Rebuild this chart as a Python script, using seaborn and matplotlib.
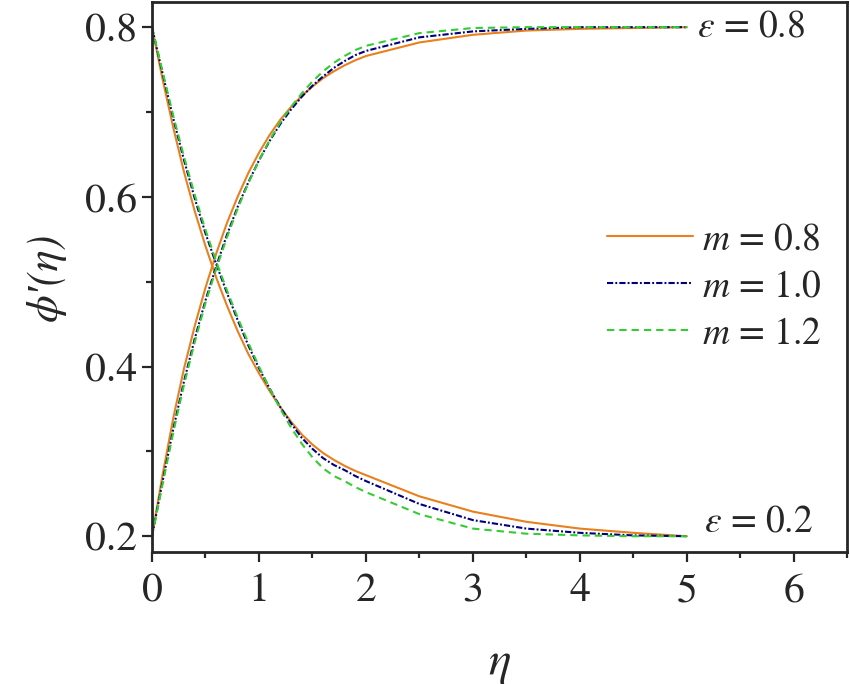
import numpy as np
import pandas as pd
import matplotlib
matplotlib.use('Agg')
import matplotlib.pyplot as plt
from matplotlib.lines import Line2D
from matplotlib.ticker import MultipleLocator
import seaborn as sns

# ---- data ----
eta = [0.0, 0.1, 0.2, 0.3, 0.4, 0.5, 0.6, 0.7, 0.8, 0.9, 1.0, 1.1, 1.2, 1.3, 1.4,
       1.5, 1.6, 1.7, 1.8, 1.9, 2.0, 2.5, 3.0, 3.5, 4.0, 4.5, 5.0]

# epsilon = 0.8 (rising curves)
rise_m08 = [0.200, 0.273, 0.340, 0.398, 0.448, 0.493, 0.533, 0.569, 0.600, 0.628, 0.652, 0.673, 0.691, 0.706, 0.719,
            0.730, 0.740, 0.748, 0.755, 0.761, 0.766, 0.782, 0.791, 0.796, 0.798, 0.799, 0.800]
rise_m10 = [0.200, 0.265, 0.327, 0.383, 0.433, 0.478, 0.518, 0.555, 0.588, 0.617, 0.643, 0.666, 0.686, 0.703, 0.718,
            0.731, 0.742, 0.752, 0.760, 0.767, 0.772, 0.788, 0.795, 0.798, 0.800, 0.800, 0.800]
rise_m12 = [0.200, 0.262, 0.323, 0.379, 0.429, 0.475, 0.515, 0.552, 0.586, 0.616, 0.643, 0.667, 0.688, 0.706, 0.722,
            0.736, 0.748, 0.758, 0.766, 0.773, 0.778, 0.793, 0.799, 0.800, 0.800, 0.800, 0.800]

# epsilon = 0.2 (falling curves)
fall_m08 = [0.800, 0.738, 0.681, 0.629, 0.583, 0.542, 0.505, 0.472, 0.442, 0.415, 0.392, 0.371, 0.352, 0.335, 0.320,
            0.308, 0.298, 0.290, 0.283, 0.277, 0.272, 0.247, 0.229, 0.217, 0.209, 0.204, 0.200]
fall_m10 = [0.800, 0.745, 0.692, 0.643, 0.598, 0.557, 0.521, 0.487, 0.455, 0.425, 0.398, 0.374, 0.352, 0.333, 0.316,
            0.303, 0.292, 0.284, 0.278, 0.271, 0.265, 0.238, 0.219, 0.209, 0.204, 0.201, 0.200]
fall_m12 = [0.800, 0.747, 0.695, 0.647, 0.602, 0.561, 0.524, 0.490, 0.458, 0.428, 0.400, 0.374, 0.350, 0.328, 0.309,
            0.293, 0.280, 0.271, 0.265, 0.258, 0.252, 0.226, 0.209, 0.203, 0.201, 0.200, 0.200]

m_labels = ['0.8', '1.0', '1.2']
colors = {'0.8': '#E8801E', '1.0': '#00007F', '1.2': '#33CC33'}
dash_styles = {'0.8': '', '1.0': (3, 1, 0.9, 1), '1.2': (3.5, 2.4)}

rows = []
for m, r, f in zip(m_labels, [rise_m08, rise_m10, rise_m12], [fall_m08, fall_m10, fall_m12]):
    for x, y in zip(eta, r):
        rows.append((m, 'eps08', x, y))
    for x, y in zip(eta, f):
        rows.append((m, 'eps02', x, y))
df = pd.DataFrame(rows, columns=['m', 'eps', 'eta', 'phi'])

# ---- style ----
sns.set_style('ticks')
plt.rcParams['font.family'] = ['STIXGeneral', 'Liberation Serif', 'DejaVu Serif']
plt.rcParams['mathtext.fontset'] = 'stix'

fig = plt.figure(figsize=(8.5, 6.84), dpi=100)
ax = fig.add_axes([0.1788, 0.1937, 0.8182, 0.8038])

sns.lineplot(data=df, x='eta', y='phi', hue='m', style='m', units='eps',
             estimator=None, palette=colors, dashes=dash_styles,
             linewidth=1.5, legend=False, ax=ax, sort=False)

ax.set_xlim(0, 6.5)
ax.set_ylim(0.182, 0.83)
ax.xaxis.set_major_locator(MultipleLocator(1))
ax.xaxis.set_minor_locator(MultipleLocator(0.5))
ax.yaxis.set_major_locator(MultipleLocator(0.2))
ax.yaxis.set_minor_locator(MultipleLocator(0.1))
ax.tick_params(which='major', direction='out', length=7.5, width=1.6, labelsize=30)
ax.tick_params(axis='x', which='major', pad=8)
ax.tick_params(axis='y', which='major', pad=3)
ax.tick_params(which='minor', direction='out', length=4.5, width=1.6)
for s in ax.spines.values():
    s.set_linewidth(2)
    s.set_visible(True)

ax.set_xlabel('η', fontsize=34, style='italic', labelpad=22)
ax.set_ylabel('ϕ′(η)', fontsize=32, style='italic', labelpad=14)

ax.text(5.09, 0.8, r'$\varepsilon$ = 0.8', fontsize=27, va='center', ha='left')
ax.text(5.16, 0.217, r'$\varepsilon$ = 0.2', fontsize=27, va='center', ha='left')

handles = [Line2D([0], [0], color=colors[m], linewidth=1.5,
                  linestyle=(0, dash_styles[m]) if dash_styles[m] else '-')
           for m in m_labels]
labels = [r'$m$ = ' + m for m in m_labels]
ax.legend(handles, labels, loc='center left', bbox_to_anchor=(0.654, 0.481),
          frameon=False, fontsize=27, handlelength=2.3, handletextpad=0.25,
          labelspacing=0.33, borderpad=0, borderaxespad=0)

fig.savefig('out.png', dpi=100)
